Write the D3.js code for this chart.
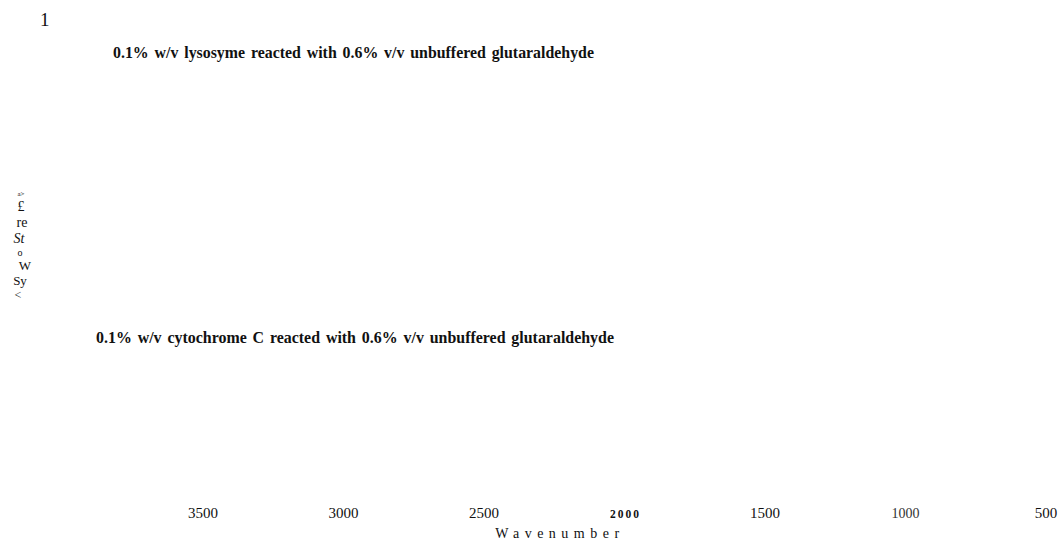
<!DOCTYPE html>
<html>
<head>
<meta charset="utf-8">
<script src="https://cdn.jsdelivr.net/npm/d3@7"></script>
<style>
  html, body { margin: 0; padding: 0; background: #fff; }
  svg { display: block; }
  text { font-family: "Liberation Serif", "Times New Roman", serif; fill: #111; }
</style>
</head>
<body>
<svg id="chart" width="1060" height="547"></svg>
<script>
// Wavenumber ticks along the bottom (cm^-1, decreasing to the right)
const wavenumberTicks = [3500, 3000, 2500, 2000, 1500, 1000, 500];
const xDomain = [3500, 500];

// Panel captions, top and bottom spectrum
const panelTitles = [
  "0.1% w/v lysosyme reacted with 0.6% v/v unbuffered glutaraldehyde",
  "0.1% w/v cytochrome C reacted with 0.6% v/v unbuffered glutaraldehyde"
];
const figureNumber = "1";
const xAxisLabel = "Wavenumber";
// Vertical axis caption pieces, as printed
const yLabelPieces = ["a>", "£", "re", "St", "o", "W", "Sy", "<"];

const svg = d3.select("#chart");

const x = d3.scaleLinear().domain(xDomain).range([202.5, 1045.5]);

// Bottom axis: labels only, no line or tick marks
const axis = svg.append("g")
  .attr("transform", "translate(0,505)")
  .call(d3.axisBottom(x).tickValues(wavenumberTicks).tickSize(0).tickPadding(0).tickFormat(d3.format("d")));
axis.select(".domain").remove();
axis.selectAll(".tick text")
  .attr("dy", null)
  .attr("y", 13)
  .style("font-family", "'Liberation Serif', serif")
  .style("font-size", "15px")
  .style("fill", "#111")
  .each(function(d) {
    const t = d3.select(this);
    if (d === 2000) {
      t.style("font-size", "11.5px").style("font-weight", "bold")
       .style("letter-spacing", "2px").attr("dx", "1px");
    } else if (d === 1000) {
      t.style("font-size", "14px").style("fill", "#333");
    }
  });

// Axis caption
svg.append("text")
  .attr("x", 560).attr("y", 538)
  .attr("text-anchor", "middle")
  .style("font-size", "14px")
  .style("letter-spacing", "5.5px")
  .text(xAxisLabel);

// Figure number
svg.append("text")
  .attr("x", 40).attr("y", 26)
  .style("font-size", "19px")
  .text(figureNumber);

// Panel captions
const titleLayout = [
  { x: 113, y: 58, w: 481 },
  { x: 96, y: 343, w: 518 }
];
svg.selectAll("text.panel-title")
  .data(panelTitles)
  .join("text")
  .attr("class", "panel-title")
  .attr("x", (d, i) => titleLayout[i].x)
  .attr("y", (d, i) => titleLayout[i].y)
  .attr("textLength", (d, i) => titleLayout[i].w)
  .attr("lengthAdjust", "spacingAndGlyphs")
  .style("font-family", "'Liberation Serif', serif")
  .style("font-size", "17px")
  .style("font-weight", "bold")
  .style("word-spacing", "2px")
  .text(d => d);

// Vertical caption, stacked piece by piece
const yLabelLayout = [
  { x: 21, y: 196, size: 7, italic: false },
  { x: 21, y: 211, size: 14, italic: false },
  { x: 22, y: 227, size: 14, italic: false },
  { x: 19, y: 243, size: 14, italic: true },
  { x: 20, y: 256, size: 10, italic: false },
  { x: 25, y: 270, size: 13, italic: false },
  { x: 20, y: 285, size: 13, italic: false },
  { x: 18, y: 299, size: 12, italic: false }
];
svg.selectAll("text.ylab")
  .data(yLabelPieces)
  .join("text")
  .attr("class", "ylab")
  .attr("text-anchor", "middle")
  .attr("x", (d, i) => yLabelLayout[i].x)
  .attr("y", (d, i) => yLabelLayout[i].y)
  .style("font-size", (d, i) => yLabelLayout[i].size + "px")
  .style("font-style", (d, i) => yLabelLayout[i].italic ? "italic" : "normal")
  .text(d => d);
</script>
</body>
</html>
